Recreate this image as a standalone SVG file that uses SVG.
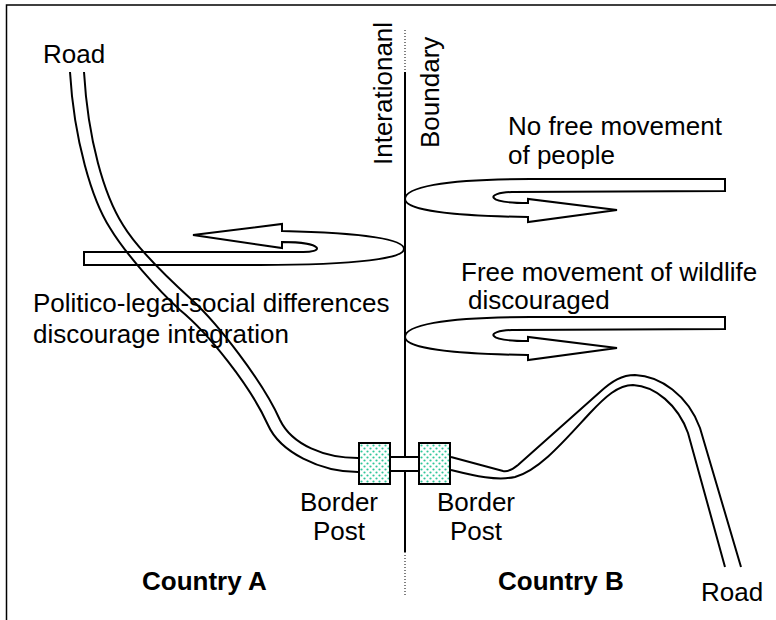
<svg xmlns="http://www.w3.org/2000/svg" width="776" height="620" viewBox="0 0 776 620">
  <style>
    .lbl { font-family: "Liberation Sans", Arial, sans-serif; font-size: 26px; fill: #000; }
    .bold { font-weight: bold; }
    .road { fill: none; stroke: #000; stroke-width: 2; }
    .arrow { fill: #fff; stroke: #000; stroke-width: 2; stroke-linejoin: miter; }
    .post { fill: url(#dots); stroke: #000; stroke-width: 2; }
  </style>
  <defs>
    <pattern id="dots" width="6" height="6" patternUnits="userSpaceOnUse">
      <rect width="6" height="6" fill="#fff"/>
      <circle cx="1.5" cy="1.5" r="1.1" fill="#2fc79a"/>
      <circle cx="4.5" cy="4.5" r="1.1" fill="#2fc79a"/>
    </pattern>
  </defs>

  <!-- page frame -->
  <path d="M6.5,620 V5 H776" fill="none" stroke="#000" stroke-width="1.5"/>

  <g id="connectors">
    <!-- international boundary -->
    <line x1="405" y1="30" x2="405" y2="72" stroke="#000" stroke-width="1" stroke-dasharray="1 2"/>
    <line x1="405" y1="72" x2="405" y2="552" stroke="#000" stroke-width="2"/>
    <line x1="405" y1="552" x2="405" y2="595" stroke="#000" stroke-width="1" stroke-dasharray="1 2"/>

    <!-- U-turn arrows -->
    <path id="arrow-people" class="arrow" d="M725,179 L725,191 L512,192 C485,193 485,203 528,203 L528,199 L617,210 L528,222 L528,217 C450,216 405,210 405,199 C405,188 440,179 530,179 Z"/>
    <use href="#arrow-people" transform="translate(0,138)"/>
    <path class="arrow" d="M84,252 L300,252 C325,253 325,242 282,242 L282,248 L193,235 L282,224 L282,231 C370,233 404,240 404,249 C404,258 360,265 260,265 L84,265 Z"/>

    <!-- road, country A side -->
    <path class="road" d="M70,72 C74,140 92,200 110,228 C125,253 158,290 180,310 C208,333 250,385 268,425 C280,452 320,472 358,472"/>
    <path class="road" d="M84,72 C88,140 104,195 123,225 C138,250 170,280 192,300 C217,323 262,380 280,420 C292,445 325,458 358,458"/>
    <!-- road, country B side -->
    <path class="road" d="M451,457 L503,471 C508,472 512,470 518,465 L600,392 C612,381 622,375 635,375 C660,376 688,395 700,428 L741,567"/>
    <path class="road" d="M451,470 C475,476 497,481 515,477 C540,470 565,440 590,413 C605,397 618,385 633,385 C655,386 678,405 688,433 L725,567"/>
  </g>

  <g id="crossing">
    <rect x="390" y="457" width="29" height="14" fill="#fff" stroke="#000" stroke-width="2"/>
  </g>
  <g id="border-post-a">
    <rect class="post" x="359" y="443" width="31" height="41"/>
    <text class="lbl" x="339" y="511" text-anchor="middle">Border</text>
    <text class="lbl" x="339" y="540" text-anchor="middle">Post</text>
  </g>
  <g id="border-post-b">
    <rect class="post" x="419" y="443" width="31" height="41"/>
    <text class="lbl" x="476" y="511" text-anchor="middle">Border</text>
    <text class="lbl" x="476" y="540" text-anchor="middle">Post</text>
  </g>

  <g id="boundary-label">
    <text class="lbl" transform="translate(392,165) rotate(-90)">Interationanl</text>
    <text class="lbl" transform="translate(439,148) rotate(-90)">Boundary</text>
  </g>

  <g id="road-labels">
    <text class="lbl" x="43" y="63">Road</text>
    <text class="lbl" x="701" y="601">Road</text>
  </g>

  <g id="note-people">
    <text class="lbl" x="508" y="135">No free movement</text>
    <text class="lbl" x="508" y="164">of people</text>
  </g>
  <g id="note-wildlife">
    <text class="lbl" x="461" y="281">Free movement of wildlife</text>
    <text class="lbl" x="468" y="309">discouraged</text>
  </g>
  <g id="note-integration">
    <text class="lbl" x="33" y="312">Politico-legal-social differences</text>
    <text class="lbl" x="33" y="343">discourage integration</text>
  </g>

  <g id="country-a">
    <text class="lbl bold" x="142" y="590">Country A</text>
  </g>
  <g id="country-b">
    <text class="lbl bold" x="498" y="590">Country B</text>
  </g>
</svg>
